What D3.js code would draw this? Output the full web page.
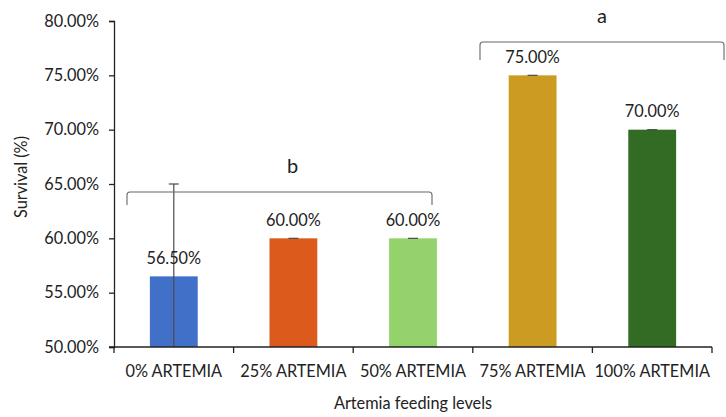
<!DOCTYPE html>
<html>
<head>
<meta charset="utf-8">
<script src="https://cdn.jsdelivr.net/npm/d3@7"></script>
<style>
  html, body { margin: 0; padding: 0; background: #fff; }
  svg { display: block; font-family: Lato, "Open Sans", sans-serif; }
</style>
</head>
<body>
<svg id="chart" width="726" height="417"></svg>
<script>
// Survival by Artemia feeding level
const categories = ["0% ARTEMIA", "25% ARTEMIA", "50% ARTEMIA", "75% ARTEMIA", "100% ARTEMIA"];
const survival = [56.5, 60.0, 60.0, 75.0, 70.0];
const errors = [8.5, 0, 0, 0, 0];
const colors = ["#4170c8", "#dc5b1c", "#94d26c", "#cc9b22", "#326b24"];
const yTicks = [50, 55, 60, 65, 70, 75, 80];
// Significance groups: letter and the categories it spans
const groupLetters = ["b", "a"];
const groupSpans = [[0, 2], [3, 4]];

const svg = d3.select("#chart");
const margin = { left: 114, right: 14, top: 21, bottom: 70 };
const W = 726, H = 417;
const fs = 16.3;

const x = d3.scaleBand().domain(categories).range([margin.left, W - margin.right]).padding(0);
const y = d3.scaleLinear().domain([50, 80]).range([H - margin.bottom, margin.top]);
const barW = x.bandwidth() * 0.4;

// Bars
svg.append("g").selectAll("rect").data(categories).join("rect")
  .attr("x", (d) => x(d) + (x.bandwidth() - barW) / 2)
  .attr("y", (d, i) => y(survival[i]))
  .attr("width", barW)
  .attr("height", (d, i) => y(50) - y(survival[i]))
  .attr("fill", (d, i) => colors[i]);

// Error bars (lower end stops at the axis)
const eb = svg.append("g").attr("stroke", "#4a4a4a").attr("stroke-width", 1.2);
categories.forEach((c, i) => {
  const cx = x(c) + x.bandwidth() / 2;
  const top = y(survival[i] + errors[i]);
  const bot = y(Math.max(50, survival[i] - errors[i]));
  eb.append("line").attr("x1", cx).attr("x2", cx).attr("y1", top).attr("y2", bot);
  eb.append("line").attr("x1", cx - 5).attr("x2", cx + 5).attr("y1", top).attr("y2", top);
});

// Value labels
svg.append("g").selectAll("text").data(categories).join("text")
  .attr("x", (d) => x(d) + x.bandwidth() / 2)
  .attr("y", (d, i) => y(survival[i]) - 18)
  .attr("dy", "0.35em")
  .attr("text-anchor", "middle")
  .attr("font-size", fs)
  .attr("fill", "#222")
  .text((d, i) => survival[i].toFixed(2) + "%");

// Y axis
const yAxis = svg.append("g")
  .attr("transform", `translate(${margin.left},0)`)
  .call(d3.axisLeft(y).tickValues(yTicks).tickSize(5).tickPadding(10).tickFormat((d) => d.toFixed(2) + "%"));
yAxis.select(".domain").attr("stroke", "#222").attr("stroke-width", 1.3);
yAxis.selectAll(".tick line").attr("stroke", "#222").attr("stroke-width", 1.3);
yAxis.selectAll("text").attr("font-size", fs).attr("fill", "#222").attr("font-family", "Lato, sans-serif");

// X axis with ticks at category boundaries
const xAxisG = svg.append("g").attr("transform", `translate(0,${y(50)})`);
xAxisG.append("line").attr("x1", margin.left - 5).attr("x2", W - margin.right)
  .attr("stroke", "#222").attr("stroke-width", 1.3);
const bounds = categories.map((c) => x(c)).concat([x(categories[categories.length - 1]) + x.bandwidth()]);
xAxisG.selectAll("line.tk").data(bounds).join("line").attr("class", "tk")
  .attr("x1", (d) => d).attr("x2", (d) => d).attr("y1", 0).attr("y2", 6)
  .attr("stroke", "#222").attr("stroke-width", 1.3);
xAxisG.selectAll("text").data(categories).join("text")
  .attr("x", (d) => x(d) + x.bandwidth() / 2)
  .attr("y", 24)
  .attr("dy", "0.35em")
  .attr("text-anchor", "middle")
  .attr("font-size", fs)
  .attr("fill", "#222")
  .text((d) => d);

// Axis titles
svg.append("text")
  .attr("x", 413).attr("y", 403).attr("dy", "0.35em")
  .attr("text-anchor", "middle").attr("font-size", fs).attr("fill", "#222")
  .text("Artemia feeding levels");
svg.append("text")
  .attr("transform", "translate(21,177) rotate(-90)")
  .attr("dy", "0.35em")
  .attr("text-anchor", "middle").attr("font-size", fs).attr("fill", "#222")
  .text("Survival (%)");

// Group brackets with letters
const bracketY = [192, 42];
const bracketDrop = [13, 18];
const bracketX = [[127, 432], [480, 724]];
const br = svg.append("g").attr("fill", "none").attr("stroke", "#666").attr("stroke-width", 1.1);
groupSpans.forEach((s, i) => {
  const [x0, x1] = bracketX[i];
  const yy = bracketY[i];
  const dd = bracketDrop[i];
  br.append("path").attr("d",
    `M${x0},${yy + dd} L${x0},${yy + 3} Q${x0},${yy} ${x0 + 3},${yy} L${x1 - 3},${yy} Q${x1},${yy} ${x1},${yy + 3} L${x1},${yy + dd}`);
  svg.append("text")
    .attr("x", (x0 + x1) / 2 + (i === 0 ? 13 : 0))
    .attr("y", yy - 26).attr("dy", "0.35em")
    .attr("text-anchor", "middle").attr("font-size", 20).attr("fill", "#222")
    .text(groupLetters[i]);
});
</script>
</body>
</html>
